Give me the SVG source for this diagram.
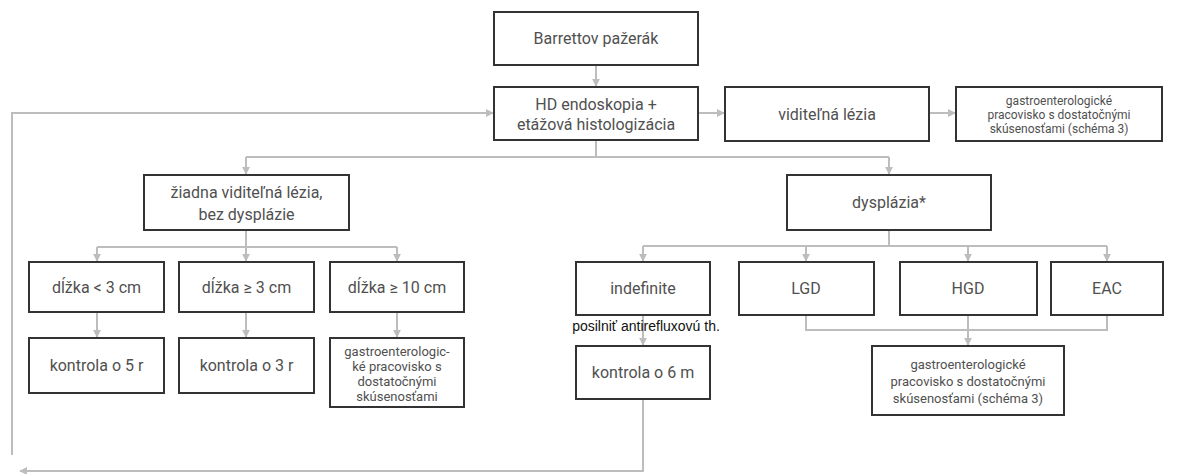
<svg xmlns="http://www.w3.org/2000/svg" width="1178" height="474" viewBox="0 0 1178 474">
<defs>
<marker id="ah" viewBox="0 0 10 10" refX="9" refY="5" markerWidth="8" markerHeight="8" markerUnits="userSpaceOnUse" orient="auto">
<path d="M0,0 L10,5 L0,10 z" fill="#bdbdbd"/>
</marker>
<style>
.box{fill:#fff;stroke:#333;stroke-width:2}
.t{font-family:Roboto,"Liberation Sans",sans-serif;fill:#505050;text-anchor:middle;font-size:16px}
.s{font-size:12px}
.m{font-size:13px}
.c{fill:none;stroke:#bdbdbd;stroke-width:2}
.lab{font-family:"Liberation Sans",Arial,sans-serif;fill:#111;font-size:14px;text-anchor:middle}
</style>
</defs>
<rect width="1178" height="474" fill="#fff"/>
<g id="connectors">
<path class="c" d="M596,65 V86" marker-end="url(#ah)"/>
<path class="c" d="M12,455 V113 H493" marker-end="url(#ah)"/>
<path class="c" d="M698,113 H724" marker-end="url(#ah)"/>
<path class="c" d="M929,113 H955" marker-end="url(#ah)"/>
<path class="c" d="M596,140 V157"/>
<path class="c" d="M246,157 H889"/>
<path class="c" d="M246,157 V174" marker-end="url(#ah)"/>
<path class="c" d="M889,157 V174" marker-end="url(#ah)"/>
<path class="c" d="M246,230 V247"/>
<path class="c" d="M97,247 H397"/>
<path class="c" d="M97,247 V261" marker-end="url(#ah)"/>
<path class="c" d="M246,247 V261" marker-end="url(#ah)"/>
<path class="c" d="M397,247 V261" marker-end="url(#ah)"/>
<path class="c" d="M97,312 V337" marker-end="url(#ah)"/>
<path class="c" d="M246,312 V337" marker-end="url(#ah)"/>
<path class="c" d="M397,312 V337" marker-end="url(#ah)"/>
<path class="c" d="M889,230 V246"/>
<path class="c" d="M643,246 H1107"/>
<path class="c" d="M643,246 V261" marker-end="url(#ah)"/>
<path class="c" d="M806,246 V261" marker-end="url(#ah)"/>
<path class="c" d="M968,246 V261" marker-end="url(#ah)"/>
<path class="c" d="M1107,246 V261" marker-end="url(#ah)"/>
<path class="c" d="M643,315 V345" marker-end="url(#ah)"/>
<path class="c" d="M806,315 V330 H1107 V315"/>
<path class="c" d="M968,315 V345" marker-end="url(#ah)"/>
<path class="c" d="M643,399 V471 H20" marker-end="url(#ah)"/>
</g>
<g id="n-barrett"><rect class="box" x="494" y="12" width="204" height="53"/><text class="t" x="596" y="44">Barrettov pažerák</text></g>
<g id="n-hd"><rect class="box" x="494" y="87" width="204" height="53"/><text class="t" x="596" y="110">HD endoskopia +</text><text class="t" x="596" y="130">etážová histologizácia</text></g>
<g id="n-lezia"><rect class="box" x="725" y="87" width="204" height="54"/><text class="t" x="827" y="120">viditeľná lézia</text></g>
<g id="n-gastro1"><rect class="box" x="956" y="87" width="206" height="54"/><text class="t s" x="1059" y="105">gastroenterologické</text><text class="t s" x="1059" y="119">pracovisko s dostatočnými</text><text class="t s" x="1059" y="133">skúsenosťami (schéma 3)</text></g>
<g id="n-ziadna"><rect class="box" x="144" y="175" width="205" height="55"/><text class="t" x="246.5" y="198">žiadna viditeľná lézia,</text><text class="t" x="246.5" y="220">bez dysplázie</text></g>
<g id="n-dysplazia"><rect class="box" x="787" y="175" width="204" height="55"/><text class="t" x="889" y="208">dysplázia*</text></g>
<g id="n-d1"><rect class="box" x="29" y="262" width="135" height="50"/><text class="t" x="96.5" y="293">dĺžka &lt; 3 cm</text></g>
<g id="n-d2"><rect class="box" x="179" y="262" width="135" height="50"/><text class="t" x="246.5" y="293">dĺžka ≥ 3 cm</text></g>
<g id="n-d3"><rect class="box" x="330" y="262" width="134" height="50"/><text class="t" x="397" y="293">dĺžka ≥ 10 cm</text></g>
<g id="n-k5"><rect class="box" x="29" y="338" width="135" height="55"/><text class="t" x="96.5" y="371">kontrola o 5 r</text></g>
<g id="n-k3"><rect class="box" x="179" y="338" width="135" height="55"/><text class="t" x="246.5" y="371">kontrola o 3 r</text></g>
<g id="n-gastro2"><rect class="box" x="330" y="338" width="134" height="69"/><text class="t m" x="397" y="356">gastroenterologic-</text><text class="t m" x="397" y="371">ké pracovisko s</text><text class="t m" x="397" y="386">dostatočnými</text><text class="t m" x="397" y="401">skúsenosťami</text></g>
<g id="n-indef"><rect class="box" x="576" y="262" width="134" height="53"/><text class="t" x="643" y="294">indefinite</text></g>
<g id="n-lgd"><rect class="box" x="739" y="262" width="135" height="53"/><text class="t" x="806" y="294">LGD</text></g>
<g id="n-hgd"><rect class="box" x="900" y="262" width="137" height="53"/><text class="t" x="968" y="294">HGD</text></g>
<g id="n-eac"><rect class="box" x="1051" y="262" width="112" height="53"/><text class="t" x="1107" y="294">EAC</text></g>
<text class="lab" x="646" y="331">posilniť antirefluxovú th.</text>
<g id="n-k6"><rect class="box" x="576" y="346" width="134" height="53"/><text class="t" x="643" y="378">kontrola o 6 m</text></g>
<g id="n-gastro3"><rect class="box" x="872" y="346" width="192" height="69"/><text class="t m" x="968" y="369">gastroenterologické</text><text class="t m" x="968" y="386">pracovisko s dostatočnými</text><text class="t m" x="968" y="403">skúsenosťami (schéma 3)</text></g>
</svg>
